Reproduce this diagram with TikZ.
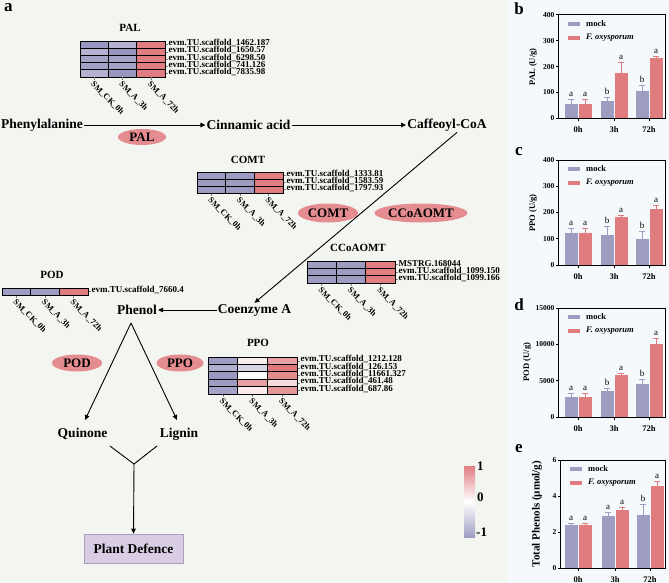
\documentclass[tikz,border=0pt]{standalone}
\usepackage{fontspec}
\setmainfont{Liberation Serif}
\usetikzlibrary{arrows.meta,shapes.geometric}
\definecolor{leftbg}{RGB}{243,245,240}
\definecolor{rightbg}{RGB}{246,249,252}
\definecolor{mockc}{RGB}{158,156,192}
\definecolor{fusc}{RGB}{224,123,126}
\definecolor{ellc}{RGB}{228,140,143}
\definecolor{hr}{RGB}{223,125,128}
\definecolor{hp1}{RGB}{152,150,190}
\definecolor{hp2}{RGB}{164,162,198}
\definecolor{hp3}{RGB}{180,178,208}
\definecolor{hpm}{RGB}{158,156,194}
\definecolor{pdfill}{RGB}{216,205,228}
\definecolor{pddraw}{RGB}{168,158,190}
\definecolor{q12}{RGB}{248,236,236}
\definecolor{q13}{RGB}{232,160,162}
\definecolor{q21}{RGB}{176,174,204}
\definecolor{q22}{RGB}{214,212,228}
\definecolor{q23}{RGB}{222,122,125}
\definecolor{q31}{RGB}{154,152,192}
\definecolor{q32}{RGB}{252,250,250}
\definecolor{q33}{RGB}{226,140,142}
\definecolor{q42}{RGB}{230,160,162}
\definecolor{q43}{RGB}{246,218,220}
\definecolor{q51}{RGB}{164,162,198}
\definecolor{q52}{RGB}{250,236,236}
\definecolor{q53}{RGB}{228,150,152}
\definecolor{cbtop}{RGB}{224,125,130}
\definecolor{cbbot}{RGB}{160,158,196}
\tikzset{
 lbl/.style={font=\fontsize{13.5}{15}\selectfont\bfseries, inner sep=1pt},
 enz/.style={ellipse, fill=ellc, inner sep=0pt, font=\fontsize{13}{14}\selectfont\bfseries},
 htitle/.style={font=\fontsize{11}{12}\selectfont\bfseries, inner sep=0pt},
 gene/.style={font=\fontsize{9}{9}\selectfont\bfseries, anchor=west, inner sep=0pt},
 coll/.style={font=\fontsize{8.5}{9}\selectfont\bfseries, anchor=west, rotate=-45, inner sep=0pt},
 arr/.style={-{Triangle[length=5pt,width=4.5pt]}, line width=0.9pt},
 plain/.style={line width=0.9pt},
 axis/.style={line width=1pt},
 gtick/.style={line width=0.4pt, gray},
 cell/.style={draw=black, line width=0.8pt},
 ticklab/.style={font=\fontsize{7.5}{8}\selectfont\bfseries, inner sep=0pt},
 xlab/.style={font=\fontsize{8.5}{9}\selectfont\bfseries, inner sep=0pt},
 letlab/.style={font=\fontsize{9}{9}\selectfont, inner sep=0pt},
 leg/.style={font=\fontsize{8.5}{9}\selectfont\bfseries, anchor=west, inner sep=0pt},
 ylab/.style={font=\fontsize{8.5}{9}\selectfont\bfseries, rotate=90, inner sep=0pt},
 plet/.style={font=\fontsize{17}{18}\selectfont\bfseries, anchor=base, inner sep=0pt},
 cbl/.style={font=\fontsize{13}{14}\selectfont\bfseries, anchor=west, inner sep=0pt},
 pd/.style={draw=pddraw, fill=pdfill, line width=0.8pt, minimum width=99pt, minimum height=29pt, font=\fontsize{13.5}{15}\selectfont\bfseries},
}
% heatmap: x0, y0, cell width, cell height, rows c1/c2/c3
\newcommand\hmap[5]{%
 \foreach \ca/\cb/\cc [count=\ri from 0] in {#5}{%
   \filldraw[cell, fill=\ca] (#1,#2+\ri*#4) rectangle ++(#3,#4);
   \filldraw[cell, fill=\cb] (#1+#3,#2+\ri*#4) rectangle ++(#3,#4);
   \filldraw[cell, fill=\cc] (#1+2*#3,#2+\ri*#4) rectangle ++(#3,#4);
 }}
% gene labels: x right, y0, cell height, list
\newcommand\genes[4]{%
 \foreach \g [count=\ri from 0] in {#4}{%
   \draw[gtick] (#1+0.5,#2+\ri*#3+0.5*#3) -- ++(2.5,0);
   \node[gene] at (#1+3.5,#2+\ri*#3+0.5*#3-1.5) {\g};
 }}
% column labels: x0, cell width, bottom
\newcommand\collabels[3]{%
 \foreach \k in {0.5,1.5,2.5}{\draw[gtick] (#1+\k*#2,#3+0.5) -- ++(0,2.5);}
 \node[coll] at (#1+0.5*#2-2,#3+6) {SM\_CK\_0h};
 \node[coll] at (#1+1.5*#2-2,#3+6) {SM\_A\_3h};
 \node[coll] at (#1+2.5*#2-2,#3+6) {SM\_A\_72h};
}
% bar charts
\newcommand\mybar[5]{%
 \pgfmathsetmacro\yv{\ybot-(#2)/\ymax*(\ybot-\ytop)}%
 \pgfmathsetmacro\ye{\ybot-(#2+#3)/\ymax*(\ybot-\ytop)}%
 \draw[#4, line width=0.8pt] (#1+6.5,\yv) -- (#1+6.5,\ye) (#1+3.5,\ye) -- (#1+9.5,\ye);
 \fill[#4] (#1,\ybot) rectangle (#1+13,\yv);
 \node[letlab, anchor=south] at (#1+6.5,\ye-2.5) {#5};
}
\newcommand\barpair[7]{\mybar{#1-13.5}{#2}{#3}{mockc}{#4}\mybar{#1+0.5}{#5}{#6}{fusc}{#7}}
\newcommand\panelframe{\draw[axis] (\pxl,\ytop) rectangle (\pxr,\ybot);}
\newcommand\yticks[1]{%
 \foreach \v in {#1}{%
  \pgfmathsetmacro\yy{\ybot-\v/\ymax*(\ybot-\ytop)}%
  \draw[axis] (\pxl,\yy) -- (\pxl-2.5,\yy);
  \node[ticklab,anchor=east] at (\pxl-3.5,\yy) {\v};
 }}
\newcommand\xticks[3]{%
 \foreach \xx/\xl in {#1/0h,#2/3h,#3/72h}{%
  \draw[axis] (\xx,\ybot) -- (\xx,\ybot+3);
  \node[xlab] at (\xx,\ybot+11.5) {\xl};
 }}
\newcommand\legendbox{%
 \fill[mockc] (\pxl+10,\ytop+7) rectangle (\pxl+22,\ytop+11);
 \node[leg] at (\pxl+28,\ytop+9) {mock};
 \fill[fusc] (\pxl+10,\ytop+21) rectangle (\pxl+22,\ytop+25);
 \node[leg] at (\pxl+28,\ytop+23) {\itshape F. oxysporum};
}
\begin{document}
\begin{tikzpicture}[x=1pt,y=-1pt]
\useasboundingbox (0,0) rectangle (669,583);
\fill[leftbg] (0,0) rectangle (507,583);
\fill[rightbg] (507,0) rectangle (669,583);

\node[plet] (la) at (8.5,12) {a};

% ---------- PAL heatmap
\node[htitle] (tpal) at (130,28) {PAL};
\hmap{80}{41}{28.33}{7.2}{hp1/hp3/hr, hp3/hp1/hr, hp2/hp2/hr, hp2/hp2/hr, hp3/hp1/hr}
\genes{165}{41}{7.2}{evm.TU.scaffold\_1462.187, evm.TU.scaffold\_1650.57, evm.TU.scaffold\_6298.50, evm.TU.scaffold\_741.126, evm.TU.scaffold\_7835.98}
\collabels{80}{28.33}{77}

% ---------- main pathway
\node[lbl, anchor=west] (phe) at (0,125) {Phenylalanine};
\node[lbl] (cin) at (248.5,125) {Cinnamic acid};
\node[lbl] (caf) at (447,125) {Caffeoyl-CoA};
\draw[arr] (phe) -- (cin);
\draw[arr] (cin) -- (caf);
\node[enz, minimum width=48pt, minimum height=16pt] (epal) at (142,137) {PAL};

% ---------- COMT heatmap
\node[htitle] (tcomt) at (248,160) {COMT};
\hmap{197}{172}{28.67}{7}{hpm/hpm/hr, hpm/hpm/hr, hpm/hpm/hr}
\genes{283}{172}{7}{evm.TU.scaffold\_1333.81, evm.TU.scaffold\_1583.59, evm.TU.scaffold\_1797.93}
\collabels{197}{28.67}{193}

\node[enz, minimum width=60pt, minimum height=19pt] (ecomt) at (328,213) {COMT};
\node[enz, minimum width=88pt, minimum height=19pt] (eccoa) at (421,213) {CCoAOMT};

% ---------- CCoAOMT heatmap
\node[htitle] (tcco) at (358,248) {CCoAOMT};
\hmap{307}{261}{29.33}{7.33}{hpm/hpm/hr, hpm/hpm/hr, hpm/hpm/hr}
\genes{395}{261}{7.33}{MSTRG.168044, evm.TU.scaffold\_1099.150, evm.TU.scaffold\_1099.166}
\collabels{307}{29.33}{283}

% ---------- POD heatmap
\node[htitle] (tpod) at (52,275) {POD};
\hmap{2}{288}{28.67}{7}{hpm/hpm/hr}
\genes{88}{288}{7}{evm.TU.scaffold\_7660.4}
\collabels{2}{28.67}{295}

% ---------- Coenzyme A / Phenol
\node[lbl] (coa) at (254.5,310) {Coenzyme A};
\node[lbl] (phl) at (137,310) {Phenol};
\draw[arr] ([xshift=10pt]caf.south) -- (coa.north);
\draw[arr] (coa) -- (phl);

\coordinate (apex) at (131,323);
\coordinate (qa) at (85,420);
\coordinate (lga) at (177,420);
\draw[arr] (apex) -- (qa);
\draw[arr] (apex) -- (lga);

\node[enz, minimum width=50pt, minimum height=17pt] (epod) at (77,363) {POD};
\node[enz, minimum width=47pt, minimum height=17pt] (eppo) at (180,363) {PPO};

% ---------- PPO heatmap
\node[htitle] (tppo) at (258,343) {PPO};
\hmap{208}{357}{29.67}{7.4}{hpm/q12/q13, q21/q22/q23, q31/q32/q33, hpm/q42/q43, q51/q52/q53}
\genes{297}{357}{7.4}{evm.TU.scaffold\_1212.128, evm.TU.scaffold\_126.153, evm.TU.scaffold\_11661.327, evm.TU.scaffold\_461.48, evm.TU.scaffold\_687.86}
\collabels{208}{29.67}{394}

% ---------- products
\node[lbl] (qui) at (82.5,434) {Quinone};
\node[lbl] (lig) at (179,434) {Lignin};
\coordinate (ya) at (110,446);
\coordinate (yb) at (157,446);
\coordinate (yj) at (134,464);
\draw[plain] (ya) -- (yj) -- (yb);
\node[pd] (pdf) at (133.5,548.5) {Plant Defence};
\draw[arr] (yj) -- (pdf.north);

% ---------- colour bar
\shade[top color=cbtop, bottom color=cbbot, middle color=white] (464,466) rectangle (475,537);
\node[cbl] (cb1) at (477,466) {1};
\node[cbl] (cb0) at (477,497) {0};
\node[cbl] (cbm) at (476,532) {-1};

% ---------- panel b
\node[plet] (lb) at (519,15) {b};
\def\pxl{558}\def\pxr{665}\def\ytop{15}\def\ybot{118.3}\def\ymax{400}
\barpair{578}{57}{15}{a}{57}{15}{a}
\barpair{614}{68}{12}{b}{175}{40}{a}
\barpair{649}{107}{22}{b}{233}{8}{a}
\panelframe
\yticks{0,100,200,300,400}
\xticks{578}{614}{649}
\legendbox
\node[ylab] (ylb) at (533,67) {PAL (U/g)};

% ---------- panel c
\node[plet] (lc) at (519,156) {c};
\def\pxl{558}\def\pxr{665}\def\ytop{160}\def\ybot{265}\def\ymax{400}
\barpair{578}{122}{18}{a}{122}{18}{a}
\barpair{614}{115}{33}{b}{183}{6}{a}
\barpair{649}{100}{28}{b}{213}{14}{a}
\panelframe
\yticks{0,100,200,300,400}
\xticks{578}{614}{649}
\legendbox
\node[ylab] (ylc) at (533,213) {PPO (U/g)};

% ---------- panel d
\node[plet] (ld) at (519,310) {d};
\def\pxl{558}\def\pxr{665}\def\ytop{308}\def\ybot{417}\def\ymax{15000}
\barpair{578}{2700}{600}{a}{2700}{600}{a}
\barpair{614}{3600}{300}{b}{5800}{150}{a}
\barpair{649}{4600}{600}{b}{10100}{700}{a}
\panelframe
\yticks{0,5000,10000,15000}
\xticks{578}{614}{649}
\legendbox
\node[ylab] (yld) at (527,362) {POD (U/g)};

% ---------- panel e
\node[plet] (le) at (519,452) {e};
\def\pxl{560}\def\pxr{665}\def\ytop{460}\def\ybot{568}\def\ymax{6}
\barpair{578}{2.38}{0.1}{a}{2.38}{0.1}{a}
\barpair{615}{2.87}{0.2}{a}{3.2}{0.15}{a}
\barpair{650}{2.93}{0.6}{b}{4.55}{0.25}{a}
\panelframe
\yticks{0,2,4,6}
\xticks{578}{615}{650}
\legendbox
\node[ylab, font=\fontsize{11}{12}\selectfont\bfseries] (yle) at (537,514) {Total Phenols (µmol/g)};
\end{tikzpicture}
\end{document}
